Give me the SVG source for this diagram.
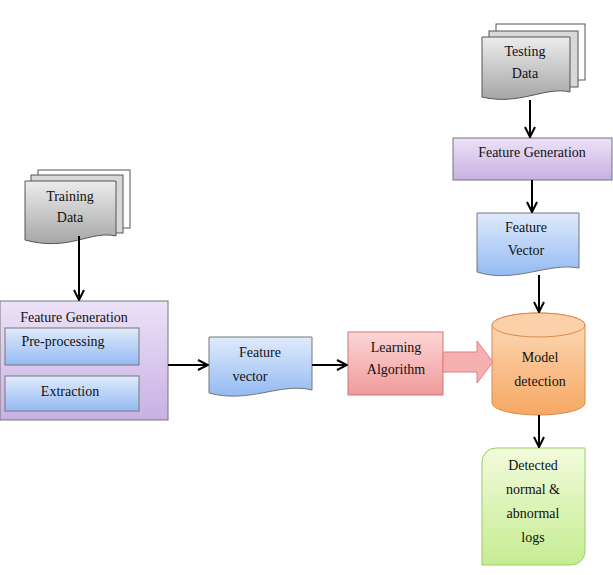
<svg xmlns="http://www.w3.org/2000/svg" width="613" height="575" viewBox="0 0 613 575">
<defs>
<linearGradient id="gGray" x1="0" y1="0" x2="0" y2="1"><stop offset="0" stop-color="#ececec"/><stop offset="1" stop-color="#a6a6a6"/></linearGradient>
<linearGradient id="gPurple" x1="0" y1="0" x2="0" y2="1"><stop offset="0" stop-color="#ece2f7"/><stop offset="1" stop-color="#c8b0e4"/></linearGradient>
<linearGradient id="gBlue" x1="0" y1="0" x2="0" y2="1"><stop offset="0" stop-color="#e0ebfc"/><stop offset="1" stop-color="#94baf2"/></linearGradient>
<linearGradient id="gPink" x1="0" y1="0" x2="0" y2="1"><stop offset="0" stop-color="#fcd6d6"/><stop offset="1" stop-color="#f09a9a"/></linearGradient>
<linearGradient id="gOrange" x1="0" y1="0" x2="0" y2="1"><stop offset="0" stop-color="#fddcbc"/><stop offset="1" stop-color="#f6a864"/></linearGradient>
<linearGradient id="gGreen" x1="0" y1="0" x2="0" y2="1"><stop offset="0" stop-color="#f2fbdc"/><stop offset="1" stop-color="#c6ec92"/></linearGradient>
<marker id="arr" viewBox="0 0 12 12" refX="11" refY="6" markerWidth="12" markerHeight="12" markerUnits="userSpaceOnUse" orient="auto"><path d="M1,1 L11,6 L1,11" fill="none" stroke="#000" stroke-width="2"/></marker>
</defs>
<style>
text{font-family:"Liberation Serif","Times New Roman",serif;font-size:14px;fill:#111;text-anchor:middle}
.sh{stroke:#777;stroke-width:1}
.ln{stroke:#000;stroke-width:2;fill:none;marker-end:url(#arr)}
</style>
<g id="training-data">
<rect x="38" y="170" width="92" height="58" fill="#fff" stroke="#555"/>
<rect x="31" y="175" width="92" height="58" fill="#d8d8d8" stroke="#555"/>
<path d="M25,181 H116 V236 C90,230 70,252 25,240 Z" fill="url(#gGray)" stroke="#555"/>
<text x="70" y="201">Training</text><text x="70" y="222">Data</text>
</g>
<g id="feature-generation-left">
<rect x="0" y="301" width="168" height="119" fill="url(#gPurple)" class="sh"/>
<text x="74" y="322">Feature  Generation</text>
<rect x="5" y="328" width="134" height="37" fill="url(#gBlue)" class="sh"/>
<text x="63" y="346">Pre-processing</text>
<rect x="5" y="376" width="134" height="35" fill="url(#gBlue)" class="sh"/>
<text x="70" y="396">Extraction</text>
</g>
<g id="feature-vector-left">
<path d="M209,337 H312 V390 C280,382 250,404 209,393 Z" fill="url(#gBlue)" class="sh"/>
<text x="260" y="357">Feature</text><text x="250" y="381">vector</text>
</g>
<g id="learning-algorithm">
<rect x="348" y="332" width="95" height="63" fill="url(#gPink)" stroke="#c77"/>
<text x="396" y="352">Learning</text><text x="396" y="374">Algorithm</text>
</g>
<g id="testing-data">
<rect x="496" y="24" width="89" height="56" fill="#fff" stroke="#555"/>
<rect x="489" y="31" width="89" height="56" fill="#d8d8d8" stroke="#555"/>
<path d="M482,37 H570 V92 C545,86 520,106 482,97 Z" fill="url(#gGray)" stroke="#555"/>
<text x="525" y="56">Testing</text><text x="525" y="78">Data</text>
</g>
<g id="feature-generation-right">
<rect x="453" y="138" width="159" height="42" fill="url(#gPurple)" class="sh"/>
<text x="532" y="157">Feature  Generation</text>
</g>
<g id="feature-vector-right">
<path d="M477,213 H579 V268 C548,262 515,284 477,272 Z" fill="url(#gBlue)" class="sh"/>
<text x="526" y="232">Feature</text><text x="526" y="255">Vector</text>
</g>
<g id="model-detection">
<path d="M492,325 V403 A46.5,12 0 0 0 585,403 V325 A46.5,12 0 0 0 492,325 Z" fill="url(#gOrange)" stroke="#d98a4a"/>
<ellipse cx="538.5" cy="325" rx="46.5" ry="12" fill="#fcd0a8" stroke="#d98a4a"/>
<text x="540" y="362">Model</text><text x="540" y="386">detection</text>
</g>
<g id="detected-logs">
<path d="M496,448 H585 V551 A14,14 0 0 1 571,565 H482 V462 A14,14 0 0 1 496,448 Z" fill="url(#gGreen)" stroke="#9c6"/>
<text x="533" y="470">Detected</text><text x="533" y="494">normal  &amp;</text><text x="533" y="518">abnormal</text><text x="533" y="542">logs</text>
</g>
<g id="connectors">
<path class="ln" d="M79,236 V300"/>
<path class="ln" d="M168,365 H208"/>
<path class="ln" d="M312,365 H347"/>
<path class="ln" d="M530,100 V137"/>
<path class="ln" d="M532,180 V212"/>
<path class="ln" d="M539,275 V312"/>
<path class="ln" d="M539,415 V447"/>
<path d="M443,352 H477 V341 L493,362 L477,383 V372 H443 Z" fill="#f7b0b0" stroke="#e08080"/>
</g>
</svg>
